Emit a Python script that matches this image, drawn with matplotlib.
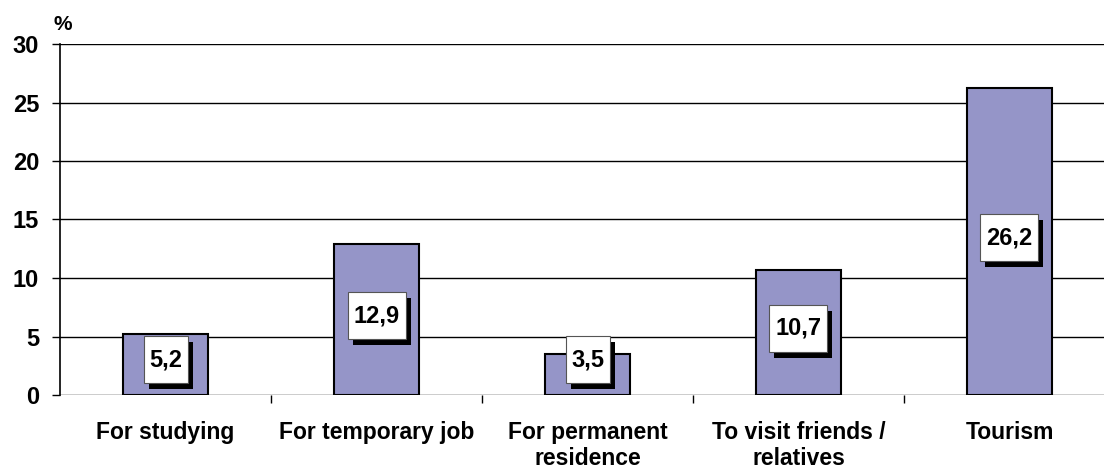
import matplotlib.pyplot as plt
from matplotlib.patches import Rectangle
from matplotlib.transforms import ScaledTranslation

# data
categories = ["For studying", "For temporary job", "For permanent\nresidence",
              "To visit friends /\nrelatives", "Tourism"]
values = [5.2, 12.9, 3.5, 10.7, 26.2]
value_labels = ["5,2", "12,9", "3,5", "10,7", "26,2"]
yticks = [0, 5, 10, 15, 20, 25, 30]

plt.rcParams['font.family'] = ['Liberation Sans', 'DejaVu Sans']
plt.rcParams['font.weight'] = 'bold'

fig = plt.figure(figsize=(11.04, 4.70), dpi=100)
ax = fig.add_axes([60 / 1104, 75 / 470, 1055 / 1104, 351 / 470])

x = list(range(len(categories)))
ax.bar(x, values, width=0.40, color="#9595C8", edgecolor="black",
       linewidth=1.5, zorder=3)

ax.set_xlim(-0.5, len(categories) - 0.5)
ax.set_ylim(0, 30)
ax.set_yticks(yticks)
ax.set_yticklabels([str(v) for v in yticks], fontsize=17, fontweight='bold')
ax.tick_params(axis='y', length=6, width=1, pad=9, color='black')
ax.yaxis.grid(True, color='black', linewidth=1, zorder=0)

ax.set_xticks(x)
ax.set_xticklabels(categories, fontsize=16.5, fontweight='bold', linespacing=1.15)
ax.tick_params(axis='x', length=0, pad=19)
ax.set_xticks([i + 0.5 for i in x[:-1]], minor=True)
ax.tick_params(axis='x', which='minor', length=6, width=1, color='black')

for side in ['top', 'right', 'bottom']:
    ax.spines[side].set_visible(False)
ax.spines['left'].set_linewidth(1.2)

# value labels in white boxes with black drop shadow
# (centred on the bar, but kept clear of the axis for short bars)
for xi, v, lab in zip(x, values, value_labels):
    yc = max(v / 2, 2.65)
    w = (2 + 14 * len(lab)) / 100.0  # inches
    h = 47 / 100.0
    tr = fig.dpi_scale_trans + ScaledTranslation(xi, yc, ax.transData)
    ax.add_patch(Rectangle((-w / 2 + 0.05, -h / 2 + 0.04 - 0.06), w, h,
                           transform=tr, fc='black', ec='black', lw=0,
                           zorder=4, clip_on=False))
    ax.add_patch(Rectangle((-w / 2, -h / 2 + 0.04), w, h, transform=tr,
                           fc='white', ec='#555555', lw=0.8, zorder=5,
                           clip_on=False))
    ax.annotate(lab, (xi, yc), xytext=(0, 4), textcoords='offset pixels',
                ha='center', va='center', fontsize=17, fontweight='bold',
                color='black', zorder=6)

fig.text(53 / 1104, 1 - 24 / 470, "%", fontsize=15, fontweight='bold',
         va='center', ha='left')

fig.savefig("out.png", dpi=100)
